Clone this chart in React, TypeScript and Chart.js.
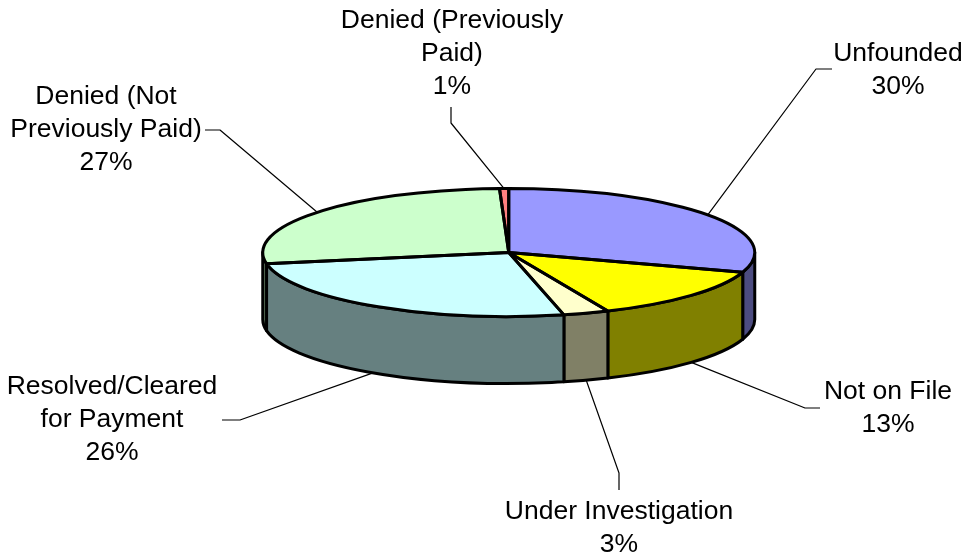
import React, { useEffect, useRef } from "react";
import { Chart, registerables } from "chart.js";

Chart.register(...registerables);

const categories = [
  ["Unfounded"],
  ["Not on File"],
  ["Under Investigation"],
  ["Resolved/Cleared", "for Payment"],
  ["Denied (Not", "Previously Paid)"],
  ["Denied (Previously", "Paid)"],
];
const shares = [30.0, 13.4, 3.0, 25.8, 27.2, 0.6];
const topColors = ["#9999FF", "#FFFF00", "#FFFFCC", "#CCFFFF", "#CCFFCC", "#FF8080"];
const sideColors = ["#4C4C80", "#808000", "#808066", "#668080", "#668066", "#804040"];

// label anchors: centre x, centre y of first line
const labelX = [898, 888, 619, 112, 106, 452];
const labelY = [54, 392, 512, 387, 97, 21];
// leader elbows
const leaderA = [[816, 69], [805, 408], [619, 473], [240, 420], [220, 130], [451, 123]];
const leaderB = [[832, 69], [820, 408], [619, 490], [222, 420], [205, 130], [451, 107]];

const SQUASH = 64 / 246;
const DEPTH = 67;
const FONT = '26.5px "Liberation Sans", Arial, sans-serif';
const LINE_H = 33;
const OUTLINE = 3;

const piePerspective = {
  id: "piePerspective",
  beforeDatasetsDraw(chart: any) {
    const ctx = chart.ctx;
    const arcs = chart.getDatasetMeta(0).data;
    ctx.save();
    ctx.strokeStyle = "#000";
    ctx.lineWidth = OUTLINE;
    ctx.lineJoin = "round";
    arcs.forEach((a: any, i: number) => {
      const s = Math.max(a.startAngle, 0);
      const e = Math.min(a.endAngle, Math.PI);
      if (e <= s) return;
      const rx = a.outerRadius;
      const ry = rx * SQUASH;
      ctx.beginPath();
      ctx.ellipse(a.x, a.y, rx, ry, 0, s, e, false);
      ctx.ellipse(a.x, a.y + DEPTH, rx, ry, 0, e, s, true);
      ctx.closePath();
      ctx.fillStyle = sideColors[i];
      ctx.fill();
      ctx.stroke();
    });
    ctx.restore();
  },
  beforeDatasetDraw(chart: any) {
    const ctx = chart.ctx;
    const a = chart.getDatasetMeta(0).data[0];
    ctx.save();
    ctx.translate(a.x, a.y);
    ctx.scale(1, SQUASH);
    ctx.translate(-a.x, -a.y);
  },
  afterDatasetDraw(chart: any) {
    chart.ctx.restore();
  },
  afterDatasetsDraw(chart: any) {
    const ctx = chart.ctx;
    const arcs = chart.getDatasetMeta(0).data;
    ctx.save();
    ctx.strokeStyle = "#000";
    ctx.lineWidth = OUTLINE;
    ctx.lineJoin = "round";
    arcs.forEach((a: any) => {
      const rx = a.outerRadius;
      ctx.beginPath();
      ctx.moveTo(a.x, a.y);
      ctx.ellipse(a.x, a.y, rx, rx * SQUASH, 0, a.startAngle, a.endAngle, false);
      ctx.closePath();
      ctx.stroke();
    });

    // leader lines start from the middle of each slice's outer edge
    ctx.strokeStyle = "#000";
    ctx.lineWidth = 1.2;
    arcs.forEach((a: any, i: number) => {
      const mid = (a.startAngle + a.endAngle) / 2;
      const rx = a.outerRadius;
      const px = a.x + rx * Math.cos(mid);
      let py = a.y + rx * SQUASH * Math.sin(mid);
      if (Math.sin(mid) > 0) py += DEPTH;
      ctx.beginPath();
      ctx.moveTo(px, py);
      ctx.lineTo(leaderA[i][0], leaderA[i][1]);
      ctx.lineTo(leaderB[i][0], leaderB[i][1]);
      ctx.stroke();
    });

    ctx.fillStyle = "#000";
    ctx.font = FONT;
    ctx.textAlign = "center";
    ctx.textBaseline = "middle";
    categories.forEach((lines, i) => {
      const all = [...lines, `${Math.round(shares[i])}%`];
      all.forEach((t, j) => ctx.fillText(t, labelX[i], labelY[i] + j * LINE_H));
    });
    ctx.restore();
  },
};

export default function App() {
  const ref = useRef<HTMLCanvasElement | null>(null);
  useEffect(() => {
    const chart = new Chart(ref.current as HTMLCanvasElement, {
      type: "pie",
      data: {
        labels: categories.map((c) => c.join(" ")),
        datasets: [
          {
            data: shares,
            backgroundColor: topColors,
            borderWidth: 0,
          },
        ],
      },
      options: {
        responsive: false,
        animation: false,
        layout: { padding: { left: 262.75, right: 210.25, top: 6.5, bottom: 55.5 } },
        plugins: { legend: { display: false }, tooltip: { enabled: false } },
      },
      plugins: [piePerspective],
    } as any);
    return () => chart.destroy();
  }, []);
  return (
    <div style={{ position: "absolute", left: 0, top: 0, width: 965, height: 554, background: "#fff" }}>
      <canvas ref={ref} width={965} height={554} style={{ display: "block" }} />
    </div>
  );
}
